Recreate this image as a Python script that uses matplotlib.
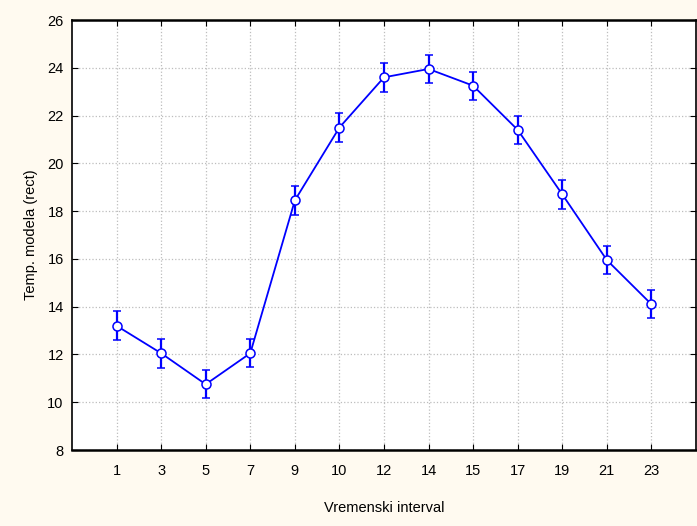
import matplotlib.pyplot as plt
import numpy as np

plt.rcParams['font.family'] = ['Liberation Sans', 'DejaVu Sans']

intervals = ['1', '3', '5', '7', '9', '10', '12', '14', '15', '17', '19', '21', '23']
temp_mean = [13.2, 12.05, 10.75, 12.05, 18.45, 21.5, 23.6, 23.95, 23.25, 21.4, 18.7, 15.95, 14.1]
temp_err = [0.6, 0.6, 0.58, 0.58, 0.6, 0.6, 0.6, 0.6, 0.58, 0.58, 0.6, 0.58, 0.58]

fig = plt.figure(figsize=(6.97, 5.26), dpi=100, facecolor='#fffaf0')
ax = fig.add_axes([72 / 697, 76 / 526, 624 / 697, 430 / 526])
ax.set_facecolor('white')

x = np.arange(len(intervals))
ax.errorbar(x, temp_mean, yerr=temp_err, color='#0000ff', lw=1.3,
            marker='o', ms=6.5, mfc='white', mec='#0000ff', mew=1.1,
            ecolor='#0000ff', elinewidth=1.6, capsize=3, capthick=1.6, zorder=3)

ax.set_xlim(-1, len(intervals))
ax.set_ylim(8, 26)
ax.set_xticks(x)
ax.set_xticklabels(intervals)
ax.set_yticks(np.arange(8, 27, 2))
ax.grid(True, linestyle=':', color='#bdbdbd', lw=0.9)
ax.tick_params(direction='in', top=True, right=True, length=4, labelsize=10.5, pad=10)
ax.tick_params(axis='y', pad=6)
for side in ax.spines.values():
    side.set_linewidth(1.2)
ax.spines['top'].set_linewidth(1.8)
ax.spines['bottom'].set_linewidth(1.8)

ax.set_xlabel('Vremenski interval', fontsize=10.5, labelpad=17)
ax.set_ylabel('Temp. modela (rect)', fontsize=10.5, labelpad=7)

fig.savefig('out.png', dpi=100, facecolor=fig.get_facecolor())
